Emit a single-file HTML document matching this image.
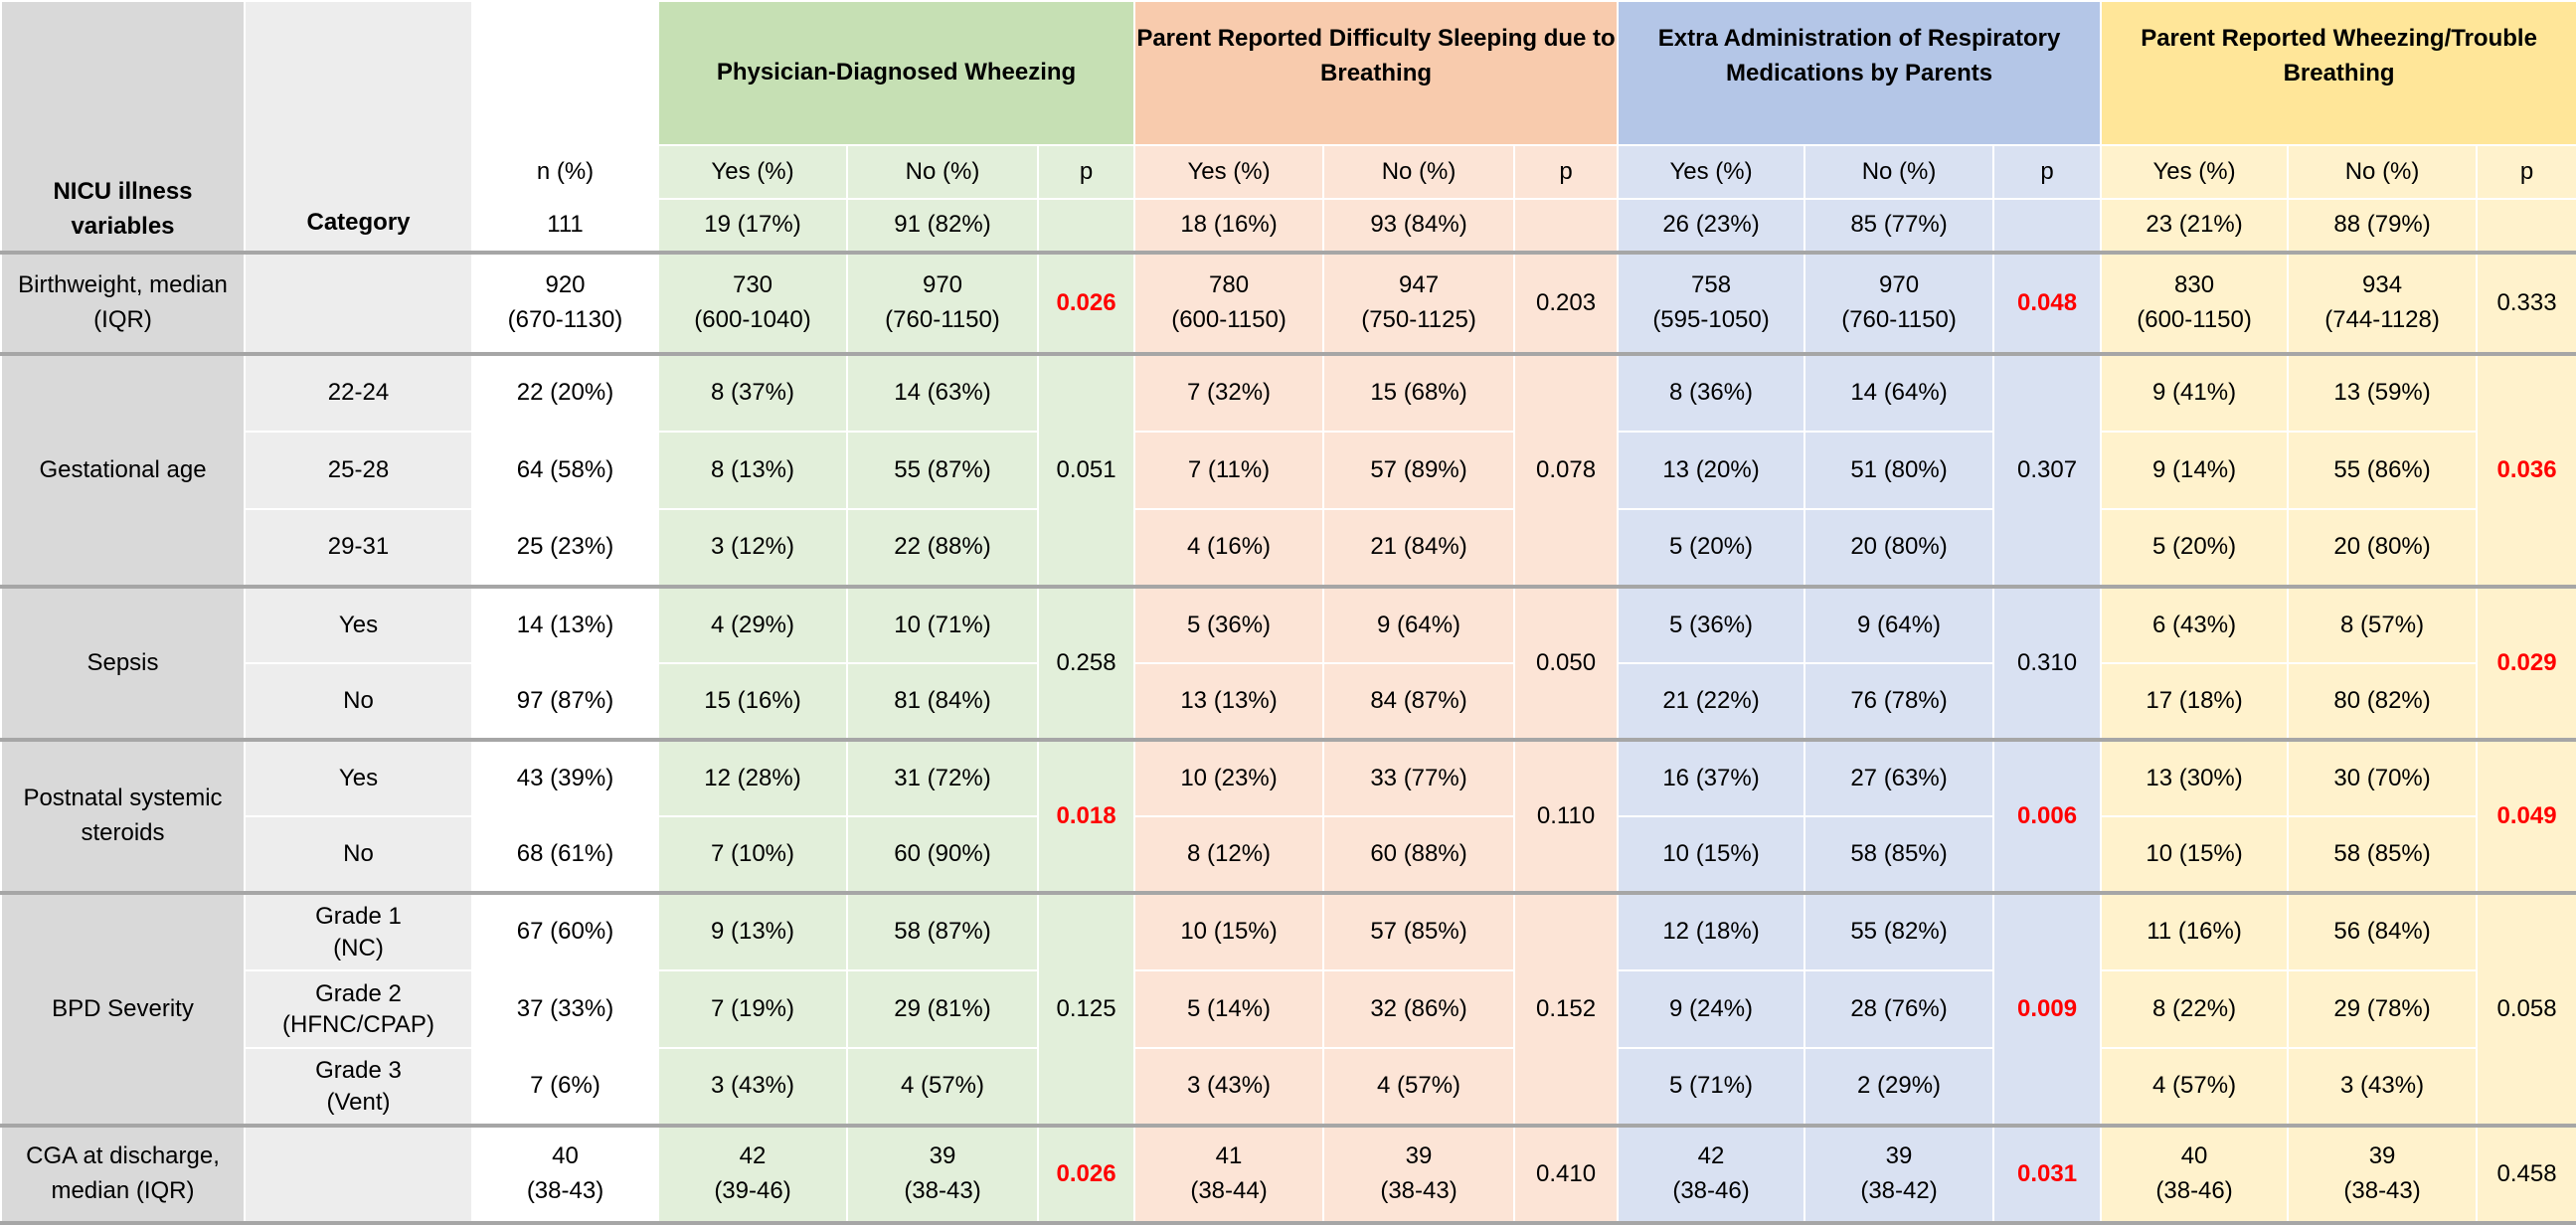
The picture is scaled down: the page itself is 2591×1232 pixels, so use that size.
<!DOCTYPE html>
<html><head><meta charset="utf-8"><style>
body{margin:0;width:2591px;height:1231px;overflow:hidden;background:#fff}
table{border-collapse:collapse;table-layout:fixed;width:2591px;font-family:"Liberation Sans Narrow","Liberation Sans",sans-serif;font-size:24px;color:#000}
td{border:2px solid #fff;text-align:center;vertical-align:middle;padding:0;line-height:1.45;overflow:hidden}
tr.g td{border-top:4px solid #a6a6a6}
tr.last td{border-bottom:4px solid #a6a6a6}
.v{background:#d9d9d9}.c{background:#ededed}.n{background:#fff}
.gh{background:#c6e0b4;font-weight:bold}.gb{background:#e2efda}
.oh{background:#f8cbad;font-weight:bold}.ob{background:#fce4d6}
.bh{background:#b4c6e7;font-weight:bold}.bb{background:#d9e1f2}
.yh{background:#ffe699;font-weight:bold}.yb{background:#fff2cc}
.r{color:#f00;font-weight:bold}
.hd{font-weight:bold}
</style></head><body>
<table>
<colgroup><col style="width:245px"><col style="width:229px"><col style="width:187px"><col style="width:190px"><col style="width:192px"><col style="width:97px"><col style="width:190px"><col style="width:192px"><col style="width:104px"><col style="width:188px"><col style="width:190px"><col style="width:108px"><col style="width:188px"><col style="width:190px"><col style="width:101px"></colgroup>
<tr style="height:145px">
<td class="v hd" rowspan="3" style="vertical-align:bottom;padding-bottom:6px">NICU illness<br>variables</td>
<td class="c hd" rowspan="3" style="vertical-align:bottom;padding-bottom:10px">Category</td>
<td class="n"></td>
<td class="gh" colspan="3">Physician-Diagnosed Wheezing</td>
<td class="oh" colspan="3" style="vertical-align:top;padding-top:20px">Parent Reported Difficulty Sleeping due to Breathing</td>
<td class="bh" colspan="3" style="vertical-align:top;padding-top:20px">Extra Administration of Respiratory Medications by Parents</td>
<td class="yh" colspan="3" style="vertical-align:top;padding-top:20px">Parent Reported Wheezing/Trouble Breathing</td>
</tr>
<tr style="height:54px">
<td class="n">n (%)</td><td class="gb">Yes (%)</td><td class="gb">No (%)</td><td class="gb">p</td><td class="ob">Yes (%)</td><td class="ob">No (%)</td><td class="ob">p</td><td class="bb">Yes (%)</td><td class="bb">No (%)</td><td class="bb">p</td><td class="yb">Yes (%)</td><td class="yb">No (%)</td><td class="yb">p</td>
</tr>
<tr style="height:54px">
<td class="n">111</td><td class="gb">19 (17%)</td><td class="gb">91 (82%)</td><td class="gb"></td><td class="ob">18 (16%)</td><td class="ob">93 (84%)</td><td class="ob"></td><td class="bb">26 (23%)</td><td class="bb">85 (77%)</td><td class="bb"></td><td class="yb">23 (21%)</td><td class="yb">88 (79%)</td><td class="yb"></td>
</tr>
<tr class="g" style="height:102px">
<td class="v">Birthweight, median<br>(IQR)</td><td class="c"></td><td class="n">920<br>(670-1130)</td><td class="gb">730<br>(600-1040)</td><td class="gb">970<br>(760-1150)</td><td class="gb r">0.026</td><td class="ob">780<br>(600-1150)</td><td class="ob">947<br>(750-1125)</td><td class="ob">0.203</td><td class="bb">758<br>(595-1050)</td><td class="bb">970<br>(760-1150)</td><td class="bb r">0.048</td><td class="yb">830<br>(600-1150)</td><td class="yb">934<br>(744-1128)</td><td class="yb">0.333</td>
</tr>
<tr class="g" style="height:78px">
<td class="v" rowspan="3">Gestational age</td><td class="c">22-24</td><td class="n">22 (20%)</td><td class="gb">8 (37%)</td><td class="gb">14 (63%)</td><td class="gb" rowspan="3">0.051</td><td class="ob">7 (32%)</td><td class="ob">15 (68%)</td><td class="ob" rowspan="3">0.078</td><td class="bb">8 (36%)</td><td class="bb">14 (64%)</td><td class="bb" rowspan="3">0.307</td><td class="yb">9 (41%)</td><td class="yb">13 (59%)</td><td class="yb r" rowspan="3">0.036</td>
</tr>
<tr style="height:78px"><td class="c">25-28</td><td class="n">64 (58%)</td><td class="gb">8 (13%)</td><td class="gb">55 (87%)</td><td class="ob">7 (11%)</td><td class="ob">57 (89%)</td><td class="bb">13 (20%)</td><td class="bb">51 (80%)</td><td class="yb">9 (14%)</td><td class="yb">55 (86%)</td></tr>
<tr style="height:78px"><td class="c">29-31</td><td class="n">25 (23%)</td><td class="gb">3 (12%)</td><td class="gb">22 (88%)</td><td class="ob">4 (16%)</td><td class="ob">21 (84%)</td><td class="bb">5 (20%)</td><td class="bb">20 (80%)</td><td class="yb">5 (20%)</td><td class="yb">20 (80%)</td></tr>
<tr class="g" style="height:77px">
<td class="v" rowspan="2">Sepsis</td><td class="c">Yes</td><td class="n">14 (13%)</td><td class="gb">4 (29%)</td><td class="gb">10 (71%)</td><td class="gb" rowspan="2">0.258</td><td class="ob">5 (36%)</td><td class="ob">9 (64%)</td><td class="ob" rowspan="2">0.050</td><td class="bb">5 (36%)</td><td class="bb">9 (64%)</td><td class="bb" rowspan="2">0.310</td><td class="yb">6 (43%)</td><td class="yb">8 (57%)</td><td class="yb r" rowspan="2">0.029</td>
</tr>
<tr style="height:77px"><td class="c">No</td><td class="n">97 (87%)</td><td class="gb">15 (16%)</td><td class="gb">81 (84%)</td><td class="ob">13 (13%)</td><td class="ob">84 (87%)</td><td class="bb">21 (22%)</td><td class="bb">76 (78%)</td><td class="yb">17 (18%)</td><td class="yb">80 (82%)</td></tr>
<tr class="g" style="height:77px">
<td class="v" rowspan="2">Postnatal systemic<br>steroids</td><td class="c">Yes</td><td class="n">43 (39%)</td><td class="gb">12 (28%)</td><td class="gb">31 (72%)</td><td class="gb r" rowspan="2">0.018</td><td class="ob">10 (23%)</td><td class="ob">33 (77%)</td><td class="ob" rowspan="2">0.110</td><td class="bb">16 (37%)</td><td class="bb">27 (63%)</td><td class="bb r" rowspan="2">0.006</td><td class="yb">13 (30%)</td><td class="yb">30 (70%)</td><td class="yb r" rowspan="2">0.049</td>
</tr>
<tr style="height:77px"><td class="c">No</td><td class="n">68 (61%)</td><td class="gb">7 (10%)</td><td class="gb">60 (90%)</td><td class="ob">8 (12%)</td><td class="ob">60 (88%)</td><td class="bb">10 (15%)</td><td class="bb">58 (85%)</td><td class="yb">10 (15%)</td><td class="yb">58 (85%)</td></tr>
<tr class="g" style="height:78px">
<td class="v" rowspan="3">BPD Severity</td><td class="c" style="line-height:1.3">Grade 1<br>(NC)</td><td class="n">67 (60%)</td><td class="gb">9 (13%)</td><td class="gb">58 (87%)</td><td class="gb" rowspan="3">0.125</td><td class="ob">10 (15%)</td><td class="ob">57 (85%)</td><td class="ob" rowspan="3">0.152</td><td class="bb">12 (18%)</td><td class="bb">55 (82%)</td><td class="bb r" rowspan="3">0.009</td><td class="yb">11 (16%)</td><td class="yb">56 (84%)</td><td class="yb" rowspan="3">0.058</td>
</tr>
<tr style="height:78px"><td class="c" style="line-height:1.3">Grade 2<br>(HFNC/CPAP)</td><td class="n">37 (33%)</td><td class="gb">7 (19%)</td><td class="gb">29 (81%)</td><td class="ob">5 (14%)</td><td class="ob">32 (86%)</td><td class="bb">9 (24%)</td><td class="bb">28 (76%)</td><td class="yb">8 (22%)</td><td class="yb">29 (78%)</td></tr>
<tr style="height:78px"><td class="c" style="line-height:1.3">Grade 3<br>(Vent)</td><td class="n">7 (6%)</td><td class="gb">3 (43%)</td><td class="gb">4 (57%)</td><td class="ob">3 (43%)</td><td class="ob">4 (57%)</td><td class="bb">5 (71%)</td><td class="bb">2 (29%)</td><td class="yb">4 (57%)</td><td class="yb">3 (43%)</td></tr>
<tr class="g last" style="height:98px">
<td class="v">CGA at discharge,<br>median (IQR)</td><td class="c"></td><td class="n">40<br>(38-43)</td><td class="gb">42<br>(39-46)</td><td class="gb">39<br>(38-43)</td><td class="gb r">0.026</td><td class="ob">41<br>(38-44)</td><td class="ob">39<br>(38-43)</td><td class="ob">0.410</td><td class="bb">42<br>(38-46)</td><td class="bb">39<br>(38-42)</td><td class="bb r">0.031</td><td class="yb">40<br>(38-46)</td><td class="yb">39<br>(38-43)</td><td class="yb">0.458</td>
</tr>
</table>
</body></html>
